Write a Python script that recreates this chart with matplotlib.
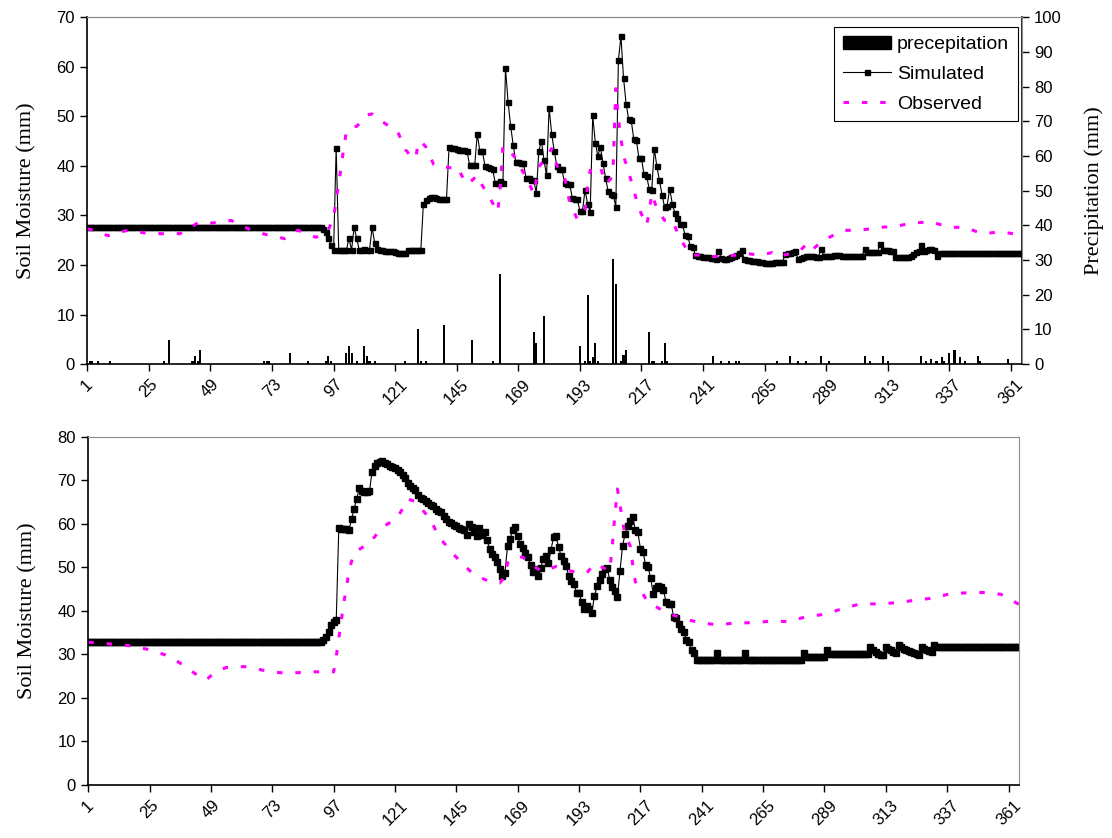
import numpy as np
import matplotlib
matplotlib.use("Agg")
import matplotlib.pyplot as plt
from matplotlib.patches import Patch
from matplotlib.lines import Line2D

# daily simulated soil moisture, upper plot (mm), day 1..365
sim_top = [
    27.7, 27.7, 27.7, 27.7, 27.7, 27.7, 27.7, 27.7, 27.7, 27.7,
    27.7, 27.7, 27.7, 27.7, 27.7, 27.7, 27.7, 27.7, 27.7, 27.7,
    27.7, 27.7, 27.7, 27.7, 27.7, 27.7, 27.7, 27.7, 27.7, 27.7,
    27.7, 27.7, 27.7, 27.7, 27.7, 27.7, 27.7, 27.7, 27.7, 27.7,
    27.7, 27.7, 27.7, 27.7, 27.7, 27.7, 27.7, 27.7, 27.7, 27.7,
    27.7, 27.7, 27.7, 27.7, 27.7, 27.7, 27.7, 27.7, 27.7, 27.7,
    27.7, 27.7, 27.7, 27.7, 27.7, 27.7, 27.7, 27.7, 27.7, 27.7,
    27.7, 27.7, 27.7, 27.7, 27.7, 27.7, 27.7, 27.7, 27.7, 27.7,
    27.7, 27.7, 27.7, 27.7, 27.7, 27.7, 27.7, 27.7, 27.7, 27.7,
    27.7, 27.6, 27.3, 26.6, 25.4, 24.0, 23.0, 43.6, 23.0, 23.0,
    23.0, 23.0, 25.4, 23.0, 27.6, 25.4, 23.0, 23.0, 23.3, 23.0,
    23.0, 27.6, 24.5, 23.3, 23.0, 23.0, 22.9, 22.9, 22.8, 22.8,
    22.6, 22.4, 22.4, 22.4, 22.5, 23.0, 23.0, 23.0, 23.0, 23.0,
    23.0, 32.4, 33.1, 33.5, 33.7, 33.7, 33.6, 33.4, 33.3, 33.3,
    33.3, 43.8, 43.7, 43.6, 43.5, 43.3, 43.2, 43.2, 43.1, 40.1,
    40.1, 40.1, 46.5, 43.0, 43.0, 40.0, 39.8, 39.6, 39.3, 36.6,
    36.6, 36.9, 36.6, 59.8, 52.9, 48.1, 44.2, 40.8, 40.8, 40.6,
    40.5, 37.6, 37.5, 37.2, 37.2, 34.5, 43.0, 45.1, 41.2, 38.1,
    51.7, 46.5, 43.0, 40.0, 39.3, 39.3, 36.6, 36.4, 36.4, 33.6,
    33.3, 33.3, 30.9, 30.9, 35.1, 32.4, 30.6, 50.2, 44.7, 42.0,
    43.8, 40.6, 37.6, 34.9, 34.4, 34.2, 31.7, 61.3, 66.2, 57.8,
    52.6, 49.4, 49.2, 45.4, 45.2, 41.6, 41.5, 38.3, 38.0, 35.4,
    35.1, 43.5, 39.9, 37.1, 34.2, 31.7, 32.0, 35.4, 32.4, 30.5,
    29.5, 28.2, 28.2, 26.0, 25.9, 23.9, 23.7, 22.0, 21.9, 21.8,
    21.7, 21.7, 21.6, 21.5, 21.4, 21.2, 22.9, 21.5, 21.3, 21.2,
    21.5, 21.7, 21.9, 22.1, 22.4, 23.1, 21.3, 21.1, 21.0, 20.9,
    20.9, 20.8, 20.7, 20.6, 20.4, 20.3, 20.3, 20.4, 20.6, 20.7,
    20.6, 20.5, 22.3, 22.4, 22.5, 22.6, 22.9, 21.3, 21.4, 21.7,
    21.9, 21.9, 21.8, 21.8, 21.7, 21.7, 23.3, 21.9, 21.8, 21.8,
    21.9, 22.0, 22.0, 22.0, 21.9, 21.9, 21.9, 21.9, 21.9, 21.9,
    21.9, 21.9, 21.9, 23.3, 22.6, 22.6, 22.6, 22.6, 22.6, 24.3,
    23.0, 23.0, 23.0, 22.9, 22.8, 21.7, 21.7, 21.7, 21.7, 21.7,
    21.7, 21.8, 22.2, 22.6, 22.8, 24.0, 22.9, 23.0, 23.2, 23.3,
    23.1, 21.8, 22.5, 22.5, 22.5, 22.5, 22.5, 22.5, 22.5, 22.5,
    22.5, 22.5, 22.5, 22.5, 22.5, 22.5, 22.5, 22.5, 22.5, 22.5,
    22.5, 22.5, 22.5, 22.5, 22.5, 22.5, 22.5, 22.5, 22.5, 22.5,
    22.5, 22.5, 22.5, 22.5, 22.5,
]

# observed soil moisture, upper plot
obs_top_days = [1, 5, 9, 13, 17, 20, 23, 27, 30, 34, 37, 41, 44, 47, 50, 54, 57,
                61, 65, 68, 71, 75, 78, 81, 83, 86, 90, 93, 95, 97, 98, 99, 100,
                101, 102, 104, 106, 108, 110, 112, 114, 117, 120, 122, 125, 127,
                129, 130, 131, 133, 136, 138, 140, 143, 145, 147, 149, 151, 153,
                155, 157, 159, 161, 162, 163, 166, 168, 170, 172, 175, 177, 180,
                182, 184, 187, 189, 192, 195, 196, 197, 199, 201, 203, 205, 206,
                207, 208, 209, 210, 212, 214, 216, 219, 220, 221, 223, 226, 229,
                232, 236, 242, 245, 250, 254, 258, 263, 268, 270, 275, 279, 282,
                284, 288, 291, 296, 302, 310, 316, 323, 330, 337, 343, 350, 357,
                362, 365]
obs_top = [27.3, 26.8, 25.9, 26.6, 27.0, 26.8, 26.5, 26.4, 26.3, 26.4, 26.3, 27.5,
           28.5, 28.3, 28.5, 28.7, 29.0, 28.0, 27.0, 26.5, 26.1, 25.7, 25.3, 26.2,
           27.0, 26.5, 25.6, 26.0, 27.2, 29.4, 33.2, 36.5, 40.0, 43.8, 47.0, 47.8,
           48.0, 49.0, 50.3, 50.5, 49.6, 48.6, 47.5, 46.9, 43.3, 42.0, 41.5, 44.8,
           45.0, 43.8, 40.3, 39.7, 39.8, 39.6, 39.9, 38.0, 36.3, 37.1, 38.1, 36.0,
           34.4, 32.5, 30.7, 36.0, 44.0, 42.8, 41.5, 39.5, 37.8, 34.4, 39.8, 41.8,
           43.5, 40.1, 37.8, 32.7, 29.2, 31.2, 35.8, 39.1, 38.8, 39.8, 36.4, 37.4,
           40.5, 55.6, 49.5, 45.5, 42.0, 38.8, 35.1, 31.4, 28.0, 30.7, 34.4, 31.4,
           29.0, 29.0, 25.4, 22.0, 22.0, 21.7, 21.8, 22.0, 22.3, 22.0, 22.5, 21.7,
           22.3, 23.0, 24.5, 23.3, 25.0, 25.8, 27.0, 27.0, 27.6, 27.8, 28.5, 28.7,
           27.6, 27.6, 26.3, 26.7, 26.3, 27.2]

# precipitation (mm), only the rainy days
rain_days = [2, 3, 5, 10, 31, 33, 42, 43, 44, 45, 70, 71, 72, 80, 87, 94, 95, 96,
             102, 103, 104, 106, 109, 110, 111, 113, 125, 130, 131, 133, 140, 151,
             159, 162, 175, 176, 179, 193, 195, 196, 197, 198, 199, 200, 206, 207,
             209, 210, 211, 220, 221, 222, 225, 226, 227, 245, 248, 251, 254, 255,
             270, 275, 278, 281, 287, 290, 304, 306, 311, 313, 326, 328, 330, 332,
             334, 335, 337, 339, 341, 343, 348, 349, 360]
rain_mm = [1.0, 1.0, 1.0, 1.0, 1.0, 6.9, 1.0, 2.3, 1.0, 4.0, 1.0, 1.0, 1.0, 3.1,
           1.0, 1.0, 2.3, 1.0, 3.1, 5.2, 3.1, 1.0, 5.2, 2.3, 1.0, 1.0, 1.0, 10.0,
           1.0, 1.0, 11.2, 6.9, 1.0, 25.9, 9.1, 6.1, 13.8, 5.2, 1.0, 19.9, 1.0,
           2.0, 6.1, 1.0, 30.2, 23.0, 1.0, 2.5, 4.0, 9.1, 1.0, 1.0, 1.0, 6.1, 1.0,
           2.3, 1.0, 1.0, 1.0, 1.0, 1.0, 2.3, 1.0, 1.0, 2.3, 1.0, 2.3, 1.0, 2.3,
           1.0, 2.3, 1.0, 1.5, 1.0, 2.0, 1.0, 3.3, 4.0, 2.0, 1.0, 2.3, 1.0, 1.5]

# daily simulated soil moisture, lower plot (mm)
sim_bot = [
    32.8, 32.8, 32.8, 32.8, 32.8, 32.8, 32.8, 32.8, 32.8, 32.8,
    32.8, 32.8, 32.8, 32.8, 32.8, 32.8, 32.8, 32.8, 32.8, 32.8,
    32.8, 32.8, 32.8, 32.8, 32.8, 32.8, 32.8, 32.8, 32.8, 32.8,
    32.8, 32.8, 32.8, 32.8, 32.8, 32.8, 32.8, 32.8, 32.8, 32.8,
    32.8, 32.8, 32.8, 32.8, 32.8, 32.8, 32.8, 32.8, 32.8, 32.8,
    32.8, 32.8, 32.8, 32.8, 32.8, 32.8, 32.8, 32.8, 32.8, 32.8,
    32.8, 32.8, 32.8, 32.8, 32.8, 32.8, 32.8, 32.8, 32.8, 32.8,
    32.8, 32.8, 32.8, 32.8, 32.8, 32.8, 32.8, 32.8, 32.8, 32.8,
    32.8, 32.8, 32.8, 32.8, 32.8, 32.8, 32.8, 32.8, 32.8, 32.8,
    32.8, 32.8, 33.2, 34.1, 35.2, 36.8, 37.5, 37.9, 59.0, 58.9,
    58.8, 58.7, 58.5, 61.1, 63.5, 65.7, 68.2, 67.5, 67.2, 67.4,
    67.5, 71.9, 73.3, 74.0, 74.3, 74.5, 74.0, 73.7, 73.3, 73.1,
    72.9, 72.4, 71.8, 71.3, 70.5, 69.3, 68.6, 68.2, 67.8, 66.7,
    65.9, 65.6, 65.3, 64.8, 64.4, 64.1, 63.4, 63.0, 62.6, 61.8,
    61.1, 60.5, 60.2, 59.8, 59.5, 59.0, 58.7, 58.5, 57.5, 60.0,
    59.2, 58.0, 57.1, 59.0, 57.5, 58.0, 56.3, 54.2, 53.1, 52.3,
    51.3, 49.6, 47.9, 48.7, 54.8, 56.5, 58.5, 59.2, 57.1, 55.3,
    54.4, 53.3, 52.3, 50.6, 49.0, 49.6, 47.9, 49.8, 52.0, 52.6,
    51.1, 54.0, 56.9, 57.1, 54.6, 52.5, 51.5, 50.2, 47.9, 46.9,
    46.1, 44.1, 44.1, 42.0, 40.4, 41.2, 40.5, 39.6, 43.4, 45.6,
    47.1, 48.5, 49.6, 49.8, 47.1, 45.4, 44.5, 43.1, 49.2, 54.9,
    57.7, 59.4, 60.7, 61.5, 58.6, 58.0, 54.3, 53.6, 50.6, 50.0,
    47.5, 43.9, 45.2, 45.6, 45.4, 44.7, 42.1, 41.6, 41.6, 38.7,
    38.3, 37.0, 35.8, 35.2, 33.3, 32.9, 31.0, 30.3, 28.7, 28.7,
    28.7, 28.7, 28.7, 28.7, 28.7, 28.7, 30.3, 28.7, 28.7, 28.7,
    28.7, 28.7, 28.7, 28.7, 28.7, 28.7, 28.7, 30.3, 28.7, 28.7,
    28.7, 28.7, 28.7, 28.7, 28.7, 28.7, 28.7, 28.7, 28.7, 28.7,
    28.7, 28.7, 28.7, 28.7, 28.7, 28.7, 28.7, 28.7, 28.7, 28.7,
    30.3, 29.3, 29.3, 29.3, 29.3, 29.3, 29.3, 29.3, 29.3, 31.0,
    30.0, 30.0, 30.0, 30.0, 30.0, 30.0, 30.0, 30.0, 30.0, 30.0,
    30.0, 30.0, 30.0, 30.0, 30.0, 30.0, 31.8, 31.0, 30.5, 30.2,
    29.9, 29.9, 31.8, 31.2, 30.9, 30.6, 30.4, 32.2, 31.6, 31.3,
    31.0, 30.7, 30.5, 30.3, 30.1, 29.9, 31.8, 31.3, 31.0, 30.7,
    30.5, 32.2, 31.8, 31.8, 31.8, 31.8, 31.8, 31.8, 31.8, 31.8,
    31.8, 31.8, 31.8, 31.8, 31.8, 31.8, 31.8, 31.8, 31.8, 31.8,
    31.8, 31.8, 31.8, 31.8, 31.8, 31.8, 31.8, 31.8, 31.8, 31.8,
    31.8, 31.8, 31.8, 31.8, 31.8,
]

# observed soil moisture, lower plot
obs_bot_days = [1, 8, 13, 17, 21, 24, 28, 31, 35, 38, 41, 44, 47, 49, 52, 55, 58,
                62, 66, 69, 73, 76, 80, 83, 87, 90, 94, 97, 98, 99, 100, 101, 102,
                103, 105, 108, 111, 113, 116, 119, 122, 124, 126, 129, 132, 135,
                138, 141, 144, 148, 151, 155, 158, 162, 164, 165, 169, 171, 174,
                178, 181, 184, 187, 191, 196, 199, 202, 205, 206, 207, 208, 209,
                210, 211, 213, 214, 215, 219, 222, 226, 230, 234, 240, 247, 254,
                262, 269, 275, 282, 289, 296, 303, 310, 318, 325, 331, 338, 346,
                353, 358, 361, 365]
obs_bot = [32.8, 32.5, 32.2, 32.0, 31.5, 31.2, 30.5, 29.9, 28.7, 27.6, 26.3, 25.1,
           24.1, 25.1, 26.3, 27.0, 27.1, 27.2, 26.8, 26.4, 26.0, 25.8, 25.8, 25.8,
           25.9, 26.0, 26.0, 26.0, 29.5, 33.7, 37.9, 42.1, 45.2, 49.4, 53.3, 54.5,
           55.5, 57.0, 59.2, 60.3, 61.5, 63.5, 65.7, 65.1, 63.0, 60.9, 57.1, 55.0,
           52.9, 50.5, 48.8, 47.5, 46.7, 46.4, 48.0, 51.0, 52.5, 52.3, 50.8, 49.2,
           49.5, 50.2, 49.5, 49.0, 48.7, 50.8, 50.0, 49.2, 55.0, 62.0, 68.0, 64.5,
           60.5, 57.5, 54.9, 50.6, 46.7, 42.9, 41.3, 40.0, 39.0, 38.2, 37.3, 36.8,
           37.2, 37.3, 37.7, 37.5, 38.7, 39.2, 40.5, 41.6, 41.6, 41.9, 42.5, 42.9,
           43.9, 44.2, 44.2, 43.8, 42.9, 41.5]

days = np.arange(1, 366)
xtick_days = list(range(1, 366, 24))

plt.rcParams['font.family'] = ['Liberation Sans', 'DejaVu Sans']
MAGENTA = '#FF00FF'
GREY = '#8c8c8c'
serif = ['Liberation Serif', 'DejaVu Serif']

fig = plt.figure(figsize=(11.12, 8.38), dpi=100)
ax1 = fig.add_axes([0.0785, 0.5656, 0.8403, 0.4137])
ax1r = ax1.twinx()
ax2 = fig.add_axes([0.0794, 0.0632, 0.8372, 0.4157])

# upper plot
ax1r.bar(rain_days, rain_mm, width=0.8, color='black', linewidth=0)
ax1.plot(days, sim_top, color='black', lw=0.8, marker='s', ms=3.6,
         mfc='black', mec='black')
ax1.plot(obs_top_days, obs_top, color=MAGENTA, lw=2.2, dashes=(1.8, 4.2),
         dash_capstyle='butt')
ax1.set_zorder(ax1r.get_zorder() + 1)
ax1.patch.set_visible(False)

ax1.set_ylim(0, 70)
ax1.set_yticks(range(0, 71, 10))
ax1r.set_ylim(0, 100)
ax1r.set_yticks(range(0, 101, 10))
ax1.set_ylabel('Soil Moisture (mm)', family=serif, fontsize=16, labelpad=14)
ax1r.set_ylabel('Precipitation (mm)', family=serif, fontsize=16, labelpad=16)

handles = [Patch(facecolor='black', edgecolor='black'),
           Line2D([], [], color='black', lw=0.8, marker='s', ms=3.6),
           Line2D([], [], color=MAGENTA, lw=2.2, dashes=(1.8, 4.2))]
leg = ax1.legend(handles, ['precepitation', 'Simulated', 'Observed'],
                 loc='upper right', bbox_to_anchor=(0.996, 0.972),
                 borderaxespad=0, fancybox=False, framealpha=1,
                 edgecolor='black', fontsize=14, handlelength=2.5,
                 handleheight=0.7, labelspacing=0.62, handletextpad=0.3,
                 borderpad=0.45)
leg.get_frame().set_linewidth(0.8)

# lower plot
ax2.plot(days, sim_bot, color='black', lw=0.8, marker='s', ms=4.3,
         mfc='black', mec='black')
ax2.plot(obs_bot_days, obs_bot, color=MAGENTA, lw=2.2, dashes=(1.8, 4.2),
         dash_capstyle='butt')
ax2.set_ylim(0, 80)
ax2.set_yticks(range(0, 81, 10))
ax2.set_ylabel('Soil Moisture (mm)', family=serif, fontsize=16, labelpad=14)

for ax in (ax1, ax2):
    ax.set_xlim(1, 365.2)
    ax.set_xticks(xtick_days)
    ax.set_xticklabels([str(d) for d in xtick_days], rotation=45, ha='center')
    ax.tick_params(direction='out', length=5, width=1, labelsize=12, pad=4)
    ax.spines['top'].set_color(GREY)
    ax.spines['right'].set_color(GREY)
    ax.spines['left'].set_linewidth(1.2)
    ax.spines['bottom'].set_linewidth(1.2)

ax1r.tick_params(direction='out', length=5, width=1, labelsize=12, pad=4)
ax1r.spines['right'].set_color('black')
ax1r.spines['right'].set_linewidth(1.2)
ax1r.spines['top'].set_color(GREY)
ax1r.spines['left'].set_visible(False)
ax1r.spines['bottom'].set_visible(False)

fig.savefig('out.png', dpi=100)
